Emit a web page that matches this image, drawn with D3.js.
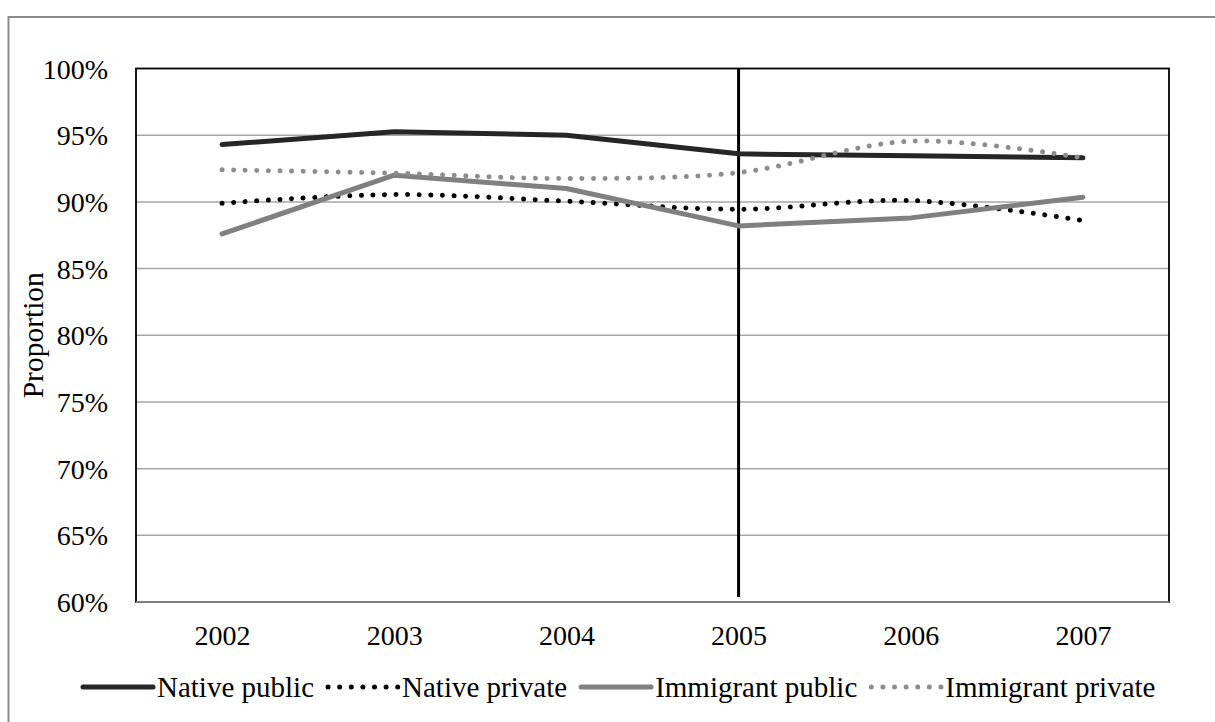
<!DOCTYPE html>
<html>
<head>
<meta charset="utf-8">
<script src="https://cdn.jsdelivr.net/npm/d3@7"></script>
<style>
  html, body { margin: 0; padding: 0; background: #fff; }
  svg { display: block; font-family: "Liberation Serif", "Times New Roman", serif; }
</style>
</head>
<body>
<svg id="chart" width="1215" height="722"></svg>
<script>
// Survey years
const years = ["2002", "2003", "2004", "2005", "2006", "2007"];

// Proportions (%) by group and sector
const nativePublic     = [94.3, 95.25, 95.0, 93.6, 93.45, 93.3];
const nativePrivate    = [89.9, 90.55, 90.05, 89.45, 90.1, 88.6];
const immigrantPublic  = [87.6, 92.0, 91.0, 88.2, 88.8, 90.35];
const immigrantPrivate = [92.4, 92.15, 91.75, 92.2, 94.55, 93.3];

// Y axis ticks
const yTicks = [60, 65, 70, 75, 80, 85, 90, 95, 100];

// Year marked by the vertical reference line
const markYear = "2005";

const series = [
  { name: "Native public",     values: nativePublic,     color: "#262626", dotted: false, smooth: false },
  { name: "Native private",    values: nativePrivate,    color: "#000000", dotted: true,  smooth: true  },
  { name: "Immigrant public",  values: immigrantPublic,  color: "#808080", dotted: false, smooth: false },
  { name: "Immigrant private", values: immigrantPrivate, color: "#8c8c8c", dotted: true,  smooth: true  }
];

const svg = d3.select("#chart");
const plot = { left: 136, top: 68.5, right: 1169, bottom: 602 };

// Outer frame
svg.append("rect")
  .attr("x", 8.5).attr("y", 17)
  .attr("width", 1300).attr("height", 800)
  .attr("fill", "none").attr("stroke", "#8a8a8a").attr("stroke-width", 2);

const x = d3.scalePoint().domain(years).range([plot.left, plot.right]).padding(0.5);
const y = d3.scaleLinear().domain([60, 100]).range([plot.bottom, plot.top]);

// Gridlines
svg.append("g")
  .selectAll("line")
  .data(yTicks.filter(t => t > 60 && t < 100))
  .join("line")
  .attr("x1", plot.left).attr("x2", plot.right)
  .attr("y1", d => y(d)).attr("y2", d => y(d))
  .attr("stroke", "#a6a6a6").attr("stroke-width", 1.5);

// Plot area border
svg.append("rect")
  .attr("x", plot.left).attr("y", plot.top)
  .attr("width", plot.right - plot.left).attr("height", plot.bottom - plot.top)
  .attr("fill", "none").attr("stroke", "#000").attr("stroke-width", 1.8);

// Category axis line
svg.append("line")
  .attr("x1", plot.left).attr("x2", plot.right)
  .attr("y1", plot.bottom).attr("y2", plot.bottom)
  .attr("stroke", "#7f7f7f").attr("stroke-width", 2);

// Y axis labels
const yAxis = d3.axisLeft(y).tickValues(yTicks).tickSize(0).tickPadding(0)
  .tickFormat(d => d + "%");
const yg = svg.append("g").attr("transform", `translate(108,0)`).call(yAxis);
yg.select(".domain").remove();
yg.selectAll("text")
  .attr("font-family", "Liberation Serif, Times New Roman, serif")
  .attr("font-size", 28).attr("fill", "#000").attr("dy", "0.34em");

// X axis labels
const xAxis = d3.axisBottom(x).tickSize(0).tickPadding(0);
const xg = svg.append("g").attr("transform", `translate(0,${plot.bottom})`).call(xAxis);
xg.select(".domain").remove();
xg.selectAll("text")
  .attr("font-family", "Liberation Serif, Times New Roman, serif")
  .attr("font-size", 28).attr("fill", "#000").attr("y", 0).attr("dy", 0)
  .attr("transform", "translate(0,43)");

// Y axis title
svg.append("text")
  .attr("transform", `translate(43,${(plot.top + plot.bottom) / 2}) rotate(-90)`)
  .attr("text-anchor", "middle")
  .attr("font-size", 29.5).attr("fill", "#000")
  .text("Proportion");

// Reference line
svg.append("line")
  .attr("x1", x(markYear)).attr("x2", x(markYear))
  .attr("y1", plot.top).attr("y2", plot.bottom - 5)
  .attr("stroke", "#000").attr("stroke-width", 3);

// Series lines
function styleLine(sel, s) {
  sel.attr("fill", "none").attr("stroke", s.color)
    .attr("stroke-width", 5).attr("stroke-linecap", "round");
  if (s.dotted) {
    sel.attr("stroke-dasharray", "0.01 11.6");
  } else {
    sel.attr("stroke-linejoin", "round");
  }
  return sel;
}

const lineLinear = d3.line().x((d, i) => x(years[i])).y(d => y(d));
const lineSmooth = d3.line().x((d, i) => x(years[i])).y(d => y(d)).curve(d3.curveCatmullRom.alpha(0.5));

series.forEach(s => {
  styleLine(svg.append("path").attr("d", (s.smooth ? lineSmooth : lineLinear)(s.values)), s);
});

// Legend
const legend = svg.append("g");
let lx = 81;
const ly = 687;
series.forEach(s => {
  styleLine(legend.append("line")
    .attr("x1", lx + 2).attr("x2", lx + 72)
    .attr("y1", ly).attr("y2", ly), s);
  const t = legend.append("text")
    .attr("x", lx + 76).attr("y", ly + 10)
    .attr("font-size", 29).attr("fill", "#000")
    .text(s.name);
  lx += 76 + t.node().getComputedTextLength() + 12;
});
</script>
</body>
</html>
